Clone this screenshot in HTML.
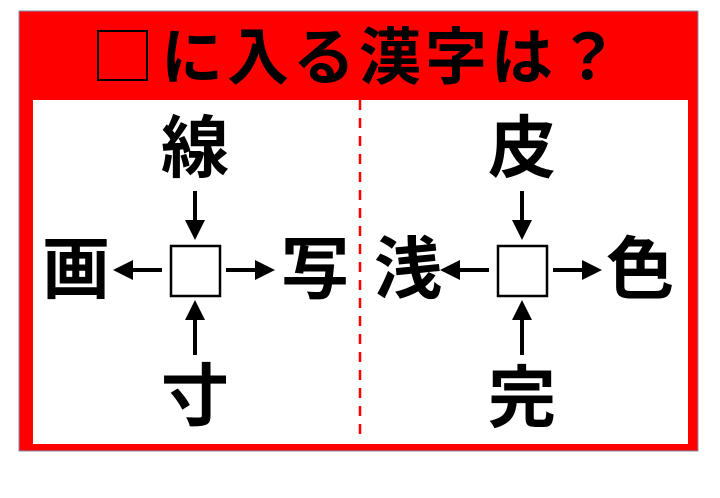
<!DOCTYPE html>
<html><head><meta charset="utf-8"><style>
body{margin:0;background:#fff;width:720px;height:493px;overflow:hidden}
text{font-family:"Liberation Sans","Noto Sans CJK JP",sans-serif;font-weight:bold}
</style></head><body>
<svg width="720" height="493" viewBox="0 0 720 493">
<rect x="19" y="11" width="679" height="440" fill="#ff0000" stroke="#8090b0" stroke-width="1"/>
<rect x="33" y="100" width="655" height="344" fill="#fff"/>
<line x1="360" y1="100" x2="360" y2="437" stroke="#ff0000" stroke-width="2.5" stroke-dasharray="10,8"/>
<rect x="98" y="31" width="49" height="49" fill="none" stroke="#000" stroke-width="2"/>
<text x="392" y="79" font-size="62" text-anchor="middle" letter-spacing="4">に入る漢字は？</text>
<g fill="#000">
<path d="M185,220h20l-10,20z M185,320h20l-10,-20z M133,260v20l-20,-10z M255,260v20l20,-10z"/>
<path transform="translate(327,0)" d="M185,220h20l-10,20z M185,320h20l-10,-20z M133,260v20l-20,-10z M255,260v20l20,-10z"/>
</g>
<g stroke="#000" stroke-width="4" fill="none">
<rect x="171" y="246" width="49" height="50" stroke-width="2.5"/>
<line x1="195" y1="191" x2="195" y2="222"/>
<line x1="195" y1="355" x2="195" y2="318"/>
<line x1="162" y1="270" x2="131" y2="270"/>
<line x1="226" y1="270" x2="257" y2="270"/>
</g>
<g stroke="#000" stroke-width="4" fill="none" transform="translate(327,0)">
<rect x="171" y="246" width="49" height="50" stroke-width="2.5"/>
<line x1="195" y1="191" x2="195" y2="222"/>
<line x1="195" y1="355" x2="195" y2="318"/>
<line x1="162" y1="270" x2="131" y2="270"/>
<line x1="226" y1="270" x2="257" y2="270"/>
</g>
<g font-size="68" text-anchor="middle">
<text x="195" y="172">線</text>
<text x="76" y="293">画</text>
<text x="315" y="293">写</text>
<text x="195" y="420">寸</text>
<text x="522" y="172">皮</text>
<text x="408" y="293">浅</text>
<text x="640" y="293">色</text>
<text x="522" y="422">完</text>
</g>
</svg>
</body></html>
